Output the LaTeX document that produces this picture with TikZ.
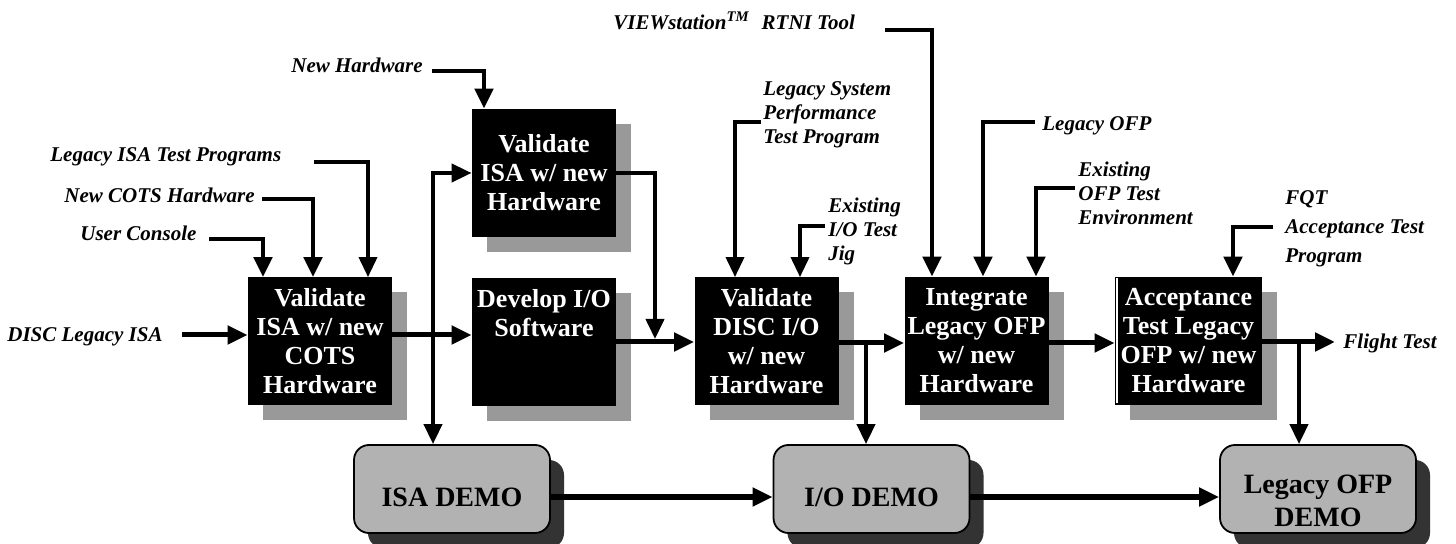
\documentclass[tikz,border=0pt]{standalone}
\usepackage{fontspec}
\setmainfont{Liberation Serif}
\usetikzlibrary{arrows.meta,shadows}
\definecolor{boxshade}{gray}{0.6}
\definecolor{demofill}{gray}{0.70}
\definecolor{demoshade}{gray}{0.2}
\begin{document}
\begin{tikzpicture}[x=0.5pt,y=-0.5pt,
  procbox/.style={fill=black, text=white,
    font=\fontsize{13}{14.5}\selectfont\bfseries, align=center,
    minimum width=72pt, minimum height=64pt, inner sep=0pt,
    drop shadow={shadow xshift=7.5pt, shadow yshift=-7.5pt, fill=boxshade, opacity=1}},
  demobox/.style={draw=black, line width=0.9pt, fill=demofill, rounded corners=7.5pt,
    minimum width=98pt, minimum height=44pt, inner sep=0pt,
    drop shadow={shadow xshift=7pt, shadow yshift=-7.5pt, fill=demoshade, opacity=1}},
  demotext/.style={font=\fontsize{14}{16.5}\selectfont\bfseries, align=center, inner sep=0pt},
  lbl/.style={font=\fontsize{10.5}{12}\selectfont\bfseries\itshape, align=left, inner sep=0pt},
  tip/.style={-{Triangle[width=9pt,length=10pt]}},
  lead/.style={tip, line width=2.4pt},
  leadthin/.style={tip, line width=1.8pt},
  flow/.style={tip, line width=2.5pt},
  flowthin/.style={tip, line width=2pt},
  demoflow/.style={tip, line width=2.8pt}
]
\useasboundingbox (0,0) rectangle (1456,544);

% process boxes
\node[procbox] (b1) at (320,341.5) {Validate\\ISA w/ new\\COTS\\Hardware};
\node[procbox] (b2) at (544,173) {Validate\\ISA w/ new\\Hardware};
\node[procbox] (b3) at (544,342) {Develop I/O\\Software\\\phantom{H}\\\phantom{H}};
\node[procbox] (b4) at (766.5,341.5) {Validate\\DISC I/O\\w/ new\\Hardware};
\node[procbox] (b5) at (976.5,341) {Integrate\\Legacy OFP\\w/ new\\Hardware};
\node[procbox, minimum width=73.5pt] (b6) at (1188.5,341) {Acceptance\\Test Legacy\\OFP w/ new\\Hardware};
\draw[white, line width=0.6pt] ([xshift=1.2pt,yshift=-0.6pt]b6.north west) -- ([xshift=1.2pt,yshift=1pt]b6.south west);

% demo boxes
\node[demobox] (isademo) at (452,489) {};
\node[demotext] (isademo-t) at ([yshift=-4pt]isademo.center) {ISA DEMO};
\node[demobox] (iodemo) at (871.5,489) {};
\node[demotext] (iodemo-t) at ([yshift=-4pt]iodemo.center) {I/O DEMO};
\node[demobox] (lodemo) at (1318,489) {};
\node[demotext] (lodemo-t) at ([yshift=-6pt]lodemo.center) {Legacy OFP\\DEMO};

% input labels
\node[lbl, anchor=west] (disc) at (7,337) {DISC Legacy ISA};
\node[lbl, anchor=west] (ucon) at (80,233) {User Console};
\node[lbl, anchor=west] (ncots) at (64,195) {New COTS Hardware};
\node[lbl, anchor=west] (lisa) at (50,157) {Legacy ISA Test Programs};
\node[lbl, anchor=west] (nhw) at (291,65) {New Hardware};
\node[lbl, anchor=west] (lsys) at (763,115) {Legacy System\\Performance\\Test Program};
\node[lbl, anchor=west] (eio) at (828,231) {Existing\\I/O Test\\Jig};
\node[lbl, anchor=west] (vst) at (613,21) {VIEWstation\textsuperscript{TM}\hspace{6pt}RTNI Tool};
\node[lbl, anchor=west] (lofp) at (1042,126) {Legacy OFP};
\node[lbl, anchor=west] (eofp) at (1078,193) {Existing\\OFP Test\\Environment};
\node[lbl, anchor=west, font=\fontsize{10.5}{14.5}\selectfont\bfseries\itshape] (fqt) at (1285,229) {FQT\\Acceptance Test\\Program};
\node[lbl, anchor=west] (flt) at (1343,343) {Flight Test};

% lead start points beside the labels
\coordinate (disc-s) at (182,335);
\coordinate (ucon-s) at (209,239);
\coordinate (ncots-s) at (262,199);
\coordinate (lisa-s) at (314,162);
\coordinate (nhw-s) at (432,71);
\coordinate (lsys-s) at (761,122);
\coordinate (eio-s) at (825,226);
\coordinate (vst-s) at (885,30);
\coordinate (lofp-s) at (1035,122);
\coordinate (eofp-s) at (1075,188);
\coordinate (fqt-s) at (1273,227);

% inputs
\draw[flow] (disc-s) -- (b1.west |- disc-s);
\draw[lead] (ucon-s) -| (b1.north -| 263,0);
\draw[lead] (ncots-s) -| (b1.north -| 313,0);
\draw[leadthin] (lisa-s) -| (b1.north -| 368,0);
\draw[lead] (nhw-s) -| (b2.north -| 484,0);
\draw[leadthin] (lsys-s) -| (b4.north -| 735,0);
\draw[leadthin] (eio-s) -| (b4.north -| 800,0);
\draw[lead] (vst-s) -| (b5.north -| 932,0);
\draw[lead] (lofp-s) -| (b5.north -| 983,0);
\draw[lead] (eofp-s) -| (b5.north -| 1036,0);
\draw[lead] (fqt-s) -| (b6.north -| 1233,0);

% main flow
\coordinate (j1) at (433,335);
\coordinate (j2) at (655,339);
\coordinate (j3) at (866,343);
\coordinate (j4) at (1299,342);
\draw[flow] (b1.east |- j1) -- (b3.west |- j1);
\draw[flowthin] (j1) |- (b2.west |- 0,173);
\draw[flowthin] (j1) -- (isademo.north -| j1);
\draw[flowthin] (b2.east |- 0,173) -| (j2);
\draw[flow] (b3.east |- 0,342) -- (b4.west |- 0,342);
\draw[flow] (b4.east |- j3) -- (b5.west |- j3);
\draw[flowthin] (j3) -- (iodemo.north -| j3);
\draw[flow] (b5.east |- j3) -- (b6.west |- j3);
\draw[flow, shorten >=4pt] (b6.east |- j4) -- (flt.west |- j4);
\draw[flowthin] (j4) -- (lodemo.north -| j4);

% demo chain
\draw[demoflow] (isademo.east |- 0,497) -- (iodemo.west |- 0,497);
\draw[demoflow] (iodemo.east |- 0,497) -- (lodemo.west |- 0,497);
\end{tikzpicture}
\end{document}
